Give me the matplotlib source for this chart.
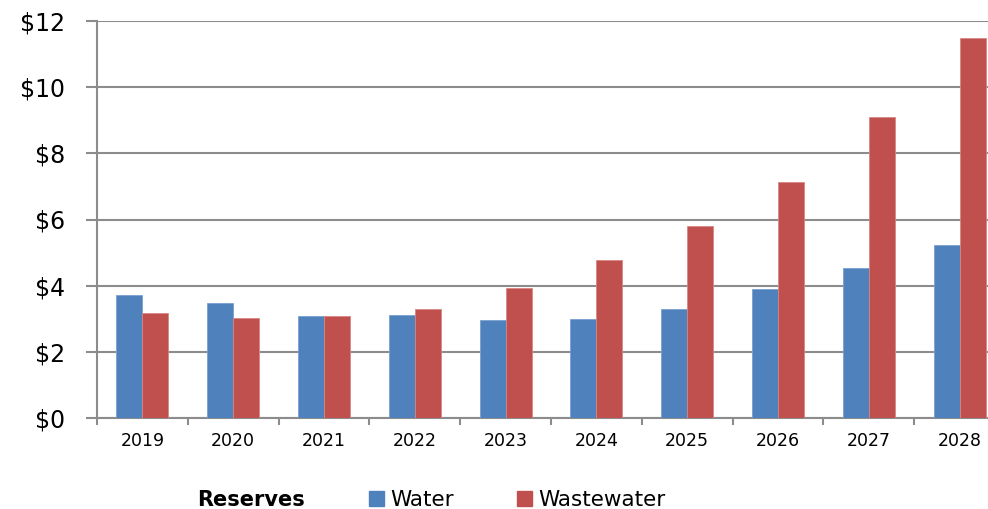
import matplotlib.pyplot as plt
import matplotlib.patches as mpatches
import numpy as np

years = ["2019", "2020", "2021", "2022", "2023", "2024", "2025", "2026", "2027", "2028"]
water = [3.73, 3.47, 3.10, 3.12, 2.97, 2.99, 3.31, 3.90, 4.55, 5.24]
wastewater = [3.17, 3.04, 3.08, 3.29, 3.93, 4.77, 5.79, 7.13, 9.08, 11.48]
yticks = [0, 2, 4, 6, 8, 10, 12]

blue = "#4F81BD"
red = "#C0504D"
grid = "#8c8c8c"

W, H = 988, 509
fig = plt.figure(figsize=(W / 100, H / 100), dpi=100)
ax = fig.add_axes([97 / W, (H - 418.3) / H, (W - 97) / W, (418.3 - 20.7) / H])

x = np.arange(len(years))
bw = 0.286
ax.bar(x - bw / 2, water, bw, color=blue, edgecolor="#7aa0d0", linewidth=0.6, zorder=3)
ax.bar(x + bw / 2, wastewater, bw, color=red, edgecolor="#d98683", linewidth=0.6, zorder=3)

cat = 90.8 / (W - 97)  # fraction of axes per category
ax.set_xlim(-0.5, -0.5 + 1 / cat)
ax.set_ylim(0, 12)

ax.set_yticks(yticks)
ax.set_yticklabels(["$" + str(v) for v in yticks], fontsize=17)
ax.yaxis.grid(True, color=grid, linewidth=1.5, zorder=0)
ax.tick_params(axis="y", length=8, width=1.5, color=grid, pad=15)

ax.set_xticks(x)
ax.set_xticklabels(years, fontsize=12.5)
ax.set_xticks(np.arange(len(years)) - 0.5, minor=True)
ax.tick_params(axis="x", which="major", length=0, pad=10)
ax.tick_params(axis="x", which="minor", length=5, width=1.5, color=grid)

for s in ["top", "right"]:
    ax.spines[s].set_visible(False)
for s in ["left", "bottom"]:
    ax.spines[s].set_color(grid)
    ax.spines[s].set_linewidth(1.5)

fig.text(197 / W, 1 - 500 / H, "Reserves", fontsize=15, fontweight="bold", va="center", ha="left")
handles = [mpatches.Patch(color=blue, label="Water"), mpatches.Patch(color=red, label="Wastewater")]
fig.legend(handles=handles, loc="center left", bbox_to_anchor=(369 / W, 1 - 500 / H), ncol=2,
           frameon=False, fontsize=15.5, handlelength=0.7, handleheight=0.7,
           handletextpad=0.3, columnspacing=2.9, borderpad=0, borderaxespad=0)

fig.savefig("out.png", dpi=100)
